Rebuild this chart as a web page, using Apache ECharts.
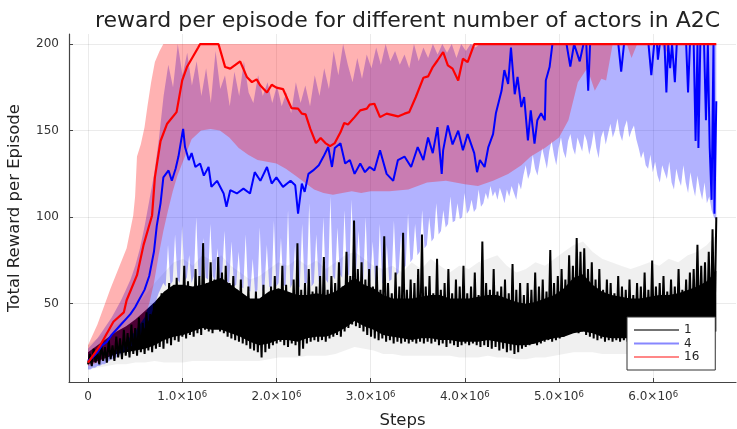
<!DOCTYPE html>
<html><head><meta charset="utf-8">
<script src="https://cdn.jsdelivr.net/npm/echarts@6/dist/echarts.min.js"></script>
<style>html,body{margin:0;padding:0;background:#fff}#c{width:737px;height:429px}</style>
</head><body><div id="c"></div>
<script>
// ---------- data ----------
const titleText = 'reward per episode for different number of actors in A2C';
const xTicks = [0, 1e6, 2e6, 3e6, 4e6, 5e6, 6e6];
const yTicks = [50, 100, 150, 200];
const legendNames = ['1', '4', '16'];
const lastStep = 6.67e6;

// 16 actors: mean line (steps in millions)
const redStepsM = [0,0.13,0.27,0.38,0.41,0.52,0.59,0.68,0.71,0.77,0.84,0.94,1.0,1.05,1.17,1.19,1.385,1.456,1.51,1.615,1.686,1.74,1.79,1.83,1.9,1.95,2.0,2.07,2.16,2.23,2.27,2.31,2.36,2.42,2.47,2.52,2.57,2.62,2.68,2.72,2.76,2.83,2.89,2.96,2.99,3.04,3.1,3.17,3.29,3.36,3.41,3.48,3.56,3.61,3.66,3.71,3.77,3.82,3.87,3.93,3.98,4.03,4.1,6.67];
const redReward = [16,26,39.6,45,52,66.5,84,101,123,144,154,160.7,179,186.7,198,200,200,186.7,185.8,190,181,178,179.6,176,172,176.5,174.8,174,163,162.7,159.8,159.4,151,142.8,145.7,142.8,141,142.8,149,154.4,153.5,157.8,161.7,162.7,165,165.5,157.8,159.8,158.2,159.8,160.7,169.4,180.5,181.3,186.7,190.5,195.4,187.7,185.8,179,191.5,189.6,200,200];
// 16 actors: ribbon
const redUpStepsM = [0,0.1,0.24,0.41,0.48,0.5,0.52,0.56,0.6,0.63,0.67,0.71,0.76,0.8,6.67];
const redUpper = [26,38,59,82,101,112,135,142,152,163.6,178,189.6,196,200,200];
const redLoStepsM = [0,0.1,0.2,0.3,0.4,0.5,0.6,0.65,0.7,0.75,0.8,0.85,0.9,0.95,1.0,1.1,1.2,1.3,1.4,1.5,1.6,1.7,1.8,1.9,2.0,2.1,2.2,2.3,2.4,2.5,2.6,2.7,2.8,2.9,3.0,3.2,3.4,3.6,3.8,3.9,4.0,4.14,4.3,4.46,4.6,4.7,4.85,5.0,5.1,5.2,5.3,5.38,5.45,5.5,5.57,5.72,5.77,5.83,6.09,6.13,6.17,6.67];
const redLower = [14,16,19,23,28,34,42,50,62,78,92,104,115,124,131,145,150,151,150,146,140,136,133,132,131,128,124,120,116,114,113,114,115,114,115,115,116,120,121,120,119,118,121,125,130,135,140,146,156,178,186,173,180,179,200,200,192,200,200,194,200,200];

// 4 actors: mean line
const blueStepsM = [0,0.05,0.1,0.15,0.2,0.25,0.3,0.35,0.4,0.45,0.5,0.55,0.6,0.65,0.7,0.73,0.77,0.8,0.855,0.89,0.93,0.96,1.0,1.01,1.03,1.07,1.1,1.14,1.19,1.23,1.28,1.31,1.37,1.44,1.47,1.51,1.58,1.65,1.72,1.77,1.83,1.9,1.95,2.0,2.07,2.15,2.2,2.23,2.27,2.3,2.34,2.39,2.45,2.5,2.55,2.59,2.62,2.68,2.73,2.78,2.83,2.89,2.94,2.99,3.04,3.1,3.17,3.24,3.29,3.36,3.43,3.5,3.56,3.61,3.66,3.71,3.755,3.77,3.82,3.87,3.93,3.98,4.03,4.1,4.13,4.16,4.21,4.25,4.3,4.33,4.39,4.42,4.46,4.49,4.53,4.56,4.6,4.63,4.67,4.7,4.74,4.77,4.81,4.85,4.86,4.9,4.93,5.08,5.12,5.16,5.22,5.26,5.29,5.31,5.33,5.63,5.66,5.69,5.95,5.98,6.01,6.04,6.05,6.07,6.12,6.14,6.16,6.18,6.2,6.23,6.25,6.35,6.37,6.39,6.43,6.45,6.47,6.48,6.5,6.54,6.56,6.58,6.6,6.62,6.64,6.65,6.67];
const blueReward = [17,19,22,26,28,32,35,38,41,44,48,53,58,66,80,95,108,123,127,121,128,135,148,151,140.5,133,137,129,131,124,129,117.5,121,113.7,106,115.6,113.7,116.5,113.7,126,121,129,119.4,123,117.5,121,118.4,102,119.4,114.6,125,127,130,135,140.5,129,140,142.7,131,133,125,131,126,129,127,138.6,125,121,133,135,129,140.5,133,146,137,152,125,138.6,153,142,150,138.6,148,137,126,133,129,140.5,148,160,173,185,177,198,171,181,163.6,169.4,144.4,161.7,142.5,156,160,156,179,186.7,200,200,187,200,190,200,200,173,200,200,184,200,200,182,200,200,191,200,200,172,200,186,200,178,200,200,172,200,200,144,200,140,200,200,156,200,140,110,200,102,167];
// 4 actors: ribbon upper edge (evenly spaced samples over the run)
const blueUpper = [24,27,30,34,38,42,47,52,58,64,72,82,95,110,125,145,170,188,175,200,182,195,176,190,170,186,166,196,174,182,164,184,170,190,172,166,182,170,178,166,176,164,172,160,178,166,176,164,182,170,186,174,196,182,200,188,178,192,180,194,186,198,188,200,190,196,188,194,186,200,190,198,192,200,194,200,195,200,192,200,196,200,198,200,200,200,200,200,200,200,200,200,200,200,200,200,200,200,200,200,200,200,200,200,200,200,200,200,200,200,200,200,200,200,200,200,200,200,200,200,200,200,200,200,200,200,200,200,200,200,200,200,200,200];
// 4 actors: ribbon lower edge (evenly spaced samples over the run)
const blueLower = [12,12,13,13,14,14,15,15,16,17,18,18,19,20,21,22,23,24,25,26,28,29,31,33,36,38,41,44,48,52,56,59,
 62,60,84,61,63,90,64,62, 95,63,65,78,62,66,100,64, 66,88,65,64,96,66,63,82, 64,66,92,63,62,86,60,61,
 80,60,59,90,58,57,76,56, 58,94,57,59,84,60,58,98, 60,62,88,61,60,104,59,62, 84,58,60,96,61,62,108,60,
 62,90,63,61,100,64,62,112, 66,64,94,67,65,104,68,66, 110,68,70,92,66,64,100,62, 63,86,62,60,96,62,61,84,
 63,64,98,66,68,90,70,72, 102,74,76,96,78,80,104,82, 84,100,86,88,108,90,92,104, 94,96,112,97,98,108,99,100,
 114,102,104,110,103,105,116,106, 108,114,110,118,112,115,110,117, 113,108,116,112,118,114,110,120, 116,124,130,122,126,136,128,124,
 132,140,134,128,138,144,136,130, 140,146,138,134,144,148,140,136, 146,142,138,148,144,136,142,150, 140,134,146,150,142,148,154,146,
 150,157,148,144,152,156,146,150, 153,145,140,134,138,130,128,136, 126,132,124,120,130,126,122,132, 120,116,128,122,118,130,120,114,
 126,118,112,124,116,110,120,108, 112,104,100,98];

// 1 actor: dense body of the noisy mean line, and its ribbon (evenly spaced samples)
const blackCoreLo = [15,17,19,21,22,23,24,26,29,31,32,34,36,35,35,33,31,28,26,27,29,29,28,30,31,31,33,36,40,37,35,32,31,30,29,30,30,29,29,28,28,28,29,28,27,26,26,27,29,30,31,33,34,33,31,30,30,30,30,31,31,31,32,32,33,33,34];
const blackCoreHi = [22,26,30,34,37,41,46,51,57,61,61,60,61,63,65,61,57,53,53,57,59,57,55,55,56,55,57,61,65,61,59,55,53,53,53,54,55,55,53,53,53,54,55,55,53,51,50,51,53,55,59,65,67,61,57,55,54,53,53,54,55,55,56,58,60,63,69];
const blackRibbonLo = [12,13,14,15,15,16,16,17,16,16,16,17,17,17,17,17,17,17,17,18,19,19,19,20,20,20,21,23,25,24,23,21,21,20,20,20,20,20,20,19,19,19,20,19,19,18,18,19,19,20,21,22,22,22,21,21,21,21,21,21,21,22,22,22,22,23,24];
const blackRibbonHi = [26,30,34,38,42,48,55,62,68,74,76,72,78,75,78,72,68,64,66,70,74,72,76,72,75,70,74,78,80,76,72,70,72,68,74,70,76,72,68,72,70,74,76,78,72,68,70,74,72,76,80,84,86,80,76,74,72,70,72,74,72,76,74,78,80,84,90];
// 1 actor: mean line (evenly spaced samples, alternating troughs and peaks of the noise)
const blackReward = [
 15,21,14,24,16,22,15,27,17,25,16,29,18,26,17,31,
 19,30,18,35,20,33,19,38,21,36,20,42,22,39,21,45,
 23,44,22,50,24,47,25,56,24,52,27,62,26,58,
 29,65,28,60,31,72,30,63,32,58,31,70,33,66,32,85,35,62,34,74,33,64,36,77,34,68,33,72,31,62,
 30,66,29,58,28,64,27,54,26,60,24,52,23,57,22,50,19,61,22,54,
 24,60,26,66,27,58,28,72,26,61,25,56,27,64,26,85,20,58,24,62,
 27,70,28,57,29,60,28,66,29,77,28,58,30,66,31,62,32,74,31,60,
 34,80,36,66,38,98,37,70,36,74,
 34,64,32,70,31,60,30,72,29,58,30,89,28,62,29,56,27,68,28,60,27,91,28,58,27,64,28,62,27,70,
 28,90,27,60,28,66,27,56,28,76,26,58,27,62,25,70,27,56,26,64,25,60,26,72,27,56,26,60,27,68,26,55,25,86,26,62,25,58,24,70,25,57,23,60,24,64,22,56,23,73,21,58,22,62,
 24,55,25,62,26,58,27,68,26,60,27,64,28,57,29,81,28,62,29,66,
 30,70,31,64,32,78,33,72,34,88,33,80,34,82,32,70,31,74,
 30,64,29,70,30,58,28,64,29,62,28,56,29,66,28,60,29,58,28,64,29,55,30,62,29,60,30,68,29,58,30,75,30,60,31,62,30,66,31,57,30,64,31,60,32,70,31,58,32,64,32,68,
 32,70,33,84,32,72,34,74,33,80,34,93,36,100];

// ---------- helpers ----------
const FONT = 'DejaVu Sans';
const evenSteps = arr => arr.map((_, i) => i * lastStep / (arr.length - 1));
const millions = arr => arr.map(v => v * 1e6);
const zip = (xs, ys) => xs.map((x, i) => [x, ys[i]]);

function band(name, upX, upY, loX, loY, fill) {
  return {
    type: 'custom', name: name, silent: true, animation: false,
    data: [[upX[0], upY[0]]],
    encode: { x: 0, y: 1 },
    renderItem: function (params, api) {
      const pts = [];
      for (let i = 0; i < upX.length; i++) pts.push(api.coord([upX[i], upY[i]]));
      for (let i = loX.length - 1; i >= 0; i--) pts.push(api.coord([loX[i], loY[i]]));
      return { type: 'polygon', shape: { points: pts }, style: { fill: fill } };
    }
  };
}
function line(name, xs, ys, color, width) {
  return {
    type: 'line', name: name, data: zip(xs, ys), symbol: 'none', showSymbol: false,
    lineStyle: { color: color, width: width }, itemStyle: { color: color },
    animation: false, silent: true
  };
}

const coreX = evenSteps(blackCoreLo);
const upX = evenSteps(blueUpper);
const loX = evenSteps(blueLower);
const blackX = evenSteps(blackReward);

const chart = echarts.init(document.getElementById('c'));
chart.setOption({
  animation: false,
  backgroundColor: '#fff',
  title: {
    text: titleText, left: 90, top: 5,
    textStyle: { fontSize: 22, fontWeight: 'normal', fontFamily: FONT, color: '#222' }
  },
  grid: { left: 69, right: 1, top: 34, bottom: 47, containLabel: false, outerBoundsMode: 'none' },
  legend: {
    orient: 'vertical', left: 627, top: 317,
    padding: [7, 16, 7, 7], itemGap: 1.5, itemWidth: 45, itemHeight: 2,
    backgroundColor: '#fff', borderColor: '#333', borderWidth: 1, borderRadius: 0,
    textStyle: { fontSize: 12, fontFamily: FONT, color: '#222' },
    data: [
      { name: legendNames[0], icon: 'rect', itemStyle: { color: '#737373' } },
      { name: legendNames[1], icon: 'rect', itemStyle: { color: '#8787ff' } },
      { name: legendNames[2], icon: 'rect', itemStyle: { color: '#ff8787' } }
    ]
  },
  xAxis: {
    type: 'value', min: -0.2017e6, max: 6.879e6,
    name: 'Steps', nameLocation: 'middle', nameGap: 30,
    nameTextStyle: { fontSize: 16.5, fontFamily: FONT, color: '#222' },
    axisLine: { show: true, onZero: false, lineStyle: { color: '#444', width: 1.2 } },
    axisTick: { show: true, inside: true, length: 4, customValues: xTicks, lineStyle: { color: '#444' } },
    splitLine: { show: true, lineStyle: { color: 'rgba(0,0,0,0.08)', width: 1 } },
    axisLabel: {
      customValues: xTicks, margin: 8.6,
      formatter: v => v === 0 ? '{z|0}' : '{b|' + (v / 1e6).toFixed(1) + '×10}{s|6}',
      rich: {
        z: { fontSize: 12, fontFamily: FONT, color: '#333', lineHeight: 12 },
        b: { fontSize: 12, fontFamily: FONT, color: '#333', lineHeight: 12, verticalAlign: 'bottom' },
        s: { fontSize: 8.5, fontFamily: FONT, color: '#333', lineHeight: 9, padding: [0, 0, 8, 0], verticalAlign: 'top' }
      }
    }
  },
  yAxis: {
    type: 'value', min: 4.8, max: 205.8,
    name: 'Total Reward per Episode', nameLocation: 'middle', nameGap: 46,
    nameTextStyle: { fontSize: 16.5, fontFamily: FONT, color: '#222' },
    axisLine: { show: true, onZero: false, lineStyle: { color: '#444', width: 1.2 } },
    axisTick: { show: true, inside: true, length: 4, customValues: yTicks, lineStyle: { color: '#444' } },
    splitLine: { show: true, lineStyle: { color: 'rgba(0,0,0,0.08)', width: 1 } },
    axisLabel: { customValues: yTicks, margin: 10, fontSize: 12, fontFamily: FONT, color: '#333' }
  },
  series: [
    band('ribbon 1', coreX, blackRibbonHi, coreX, blackRibbonLo, 'rgba(0,0,0,0.06)'),
    band('body 1', coreX, blackCoreHi, coreX, blackCoreLo, '#000'),
    line(legendNames[0], blackX, blackReward, '#000', 2.0),
    band('ribbon 4', upX, blueUpper, loX, blueLower, 'rgba(0,0,255,0.3)'),
    line(legendNames[1], millions(blueStepsM), blueReward, '#0000ff', 2),
    band('ribbon 16', millions(redUpStepsM), redUpper, millions(redLoStepsM), redLower, 'rgba(255,0,0,0.3)'),
    line(legendNames[2], millions(redStepsM), redReward, '#ff0000', 2.2)
  ]
});
</script>
</body></html>
